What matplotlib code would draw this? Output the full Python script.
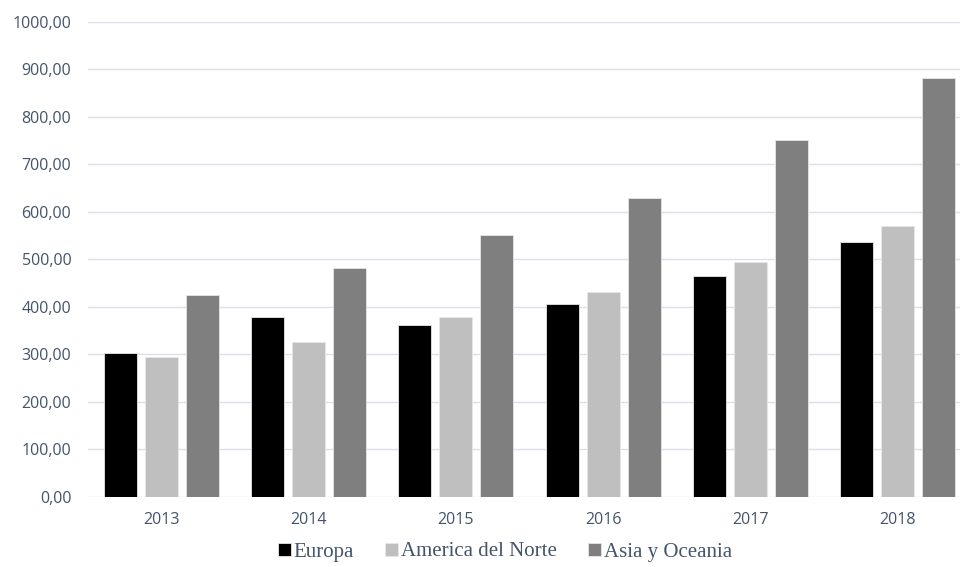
import numpy as np
import matplotlib.pyplot as plt
from matplotlib.ticker import FuncFormatter

years = ['2013', '2014', '2015', '2016', '2017', '2018']
europa = [303, 378, 362, 406, 465, 537]
america = [294, 326, 379, 430, 495, 569]
asia = [425, 482, 550, 628, 752, 881]

series = [('Europa', europa, '#000000'),
          ('America del Norte', america, '#bfbfbf'),
          ('Asia y Oceania', asia, '#7f7f7f')]

txt = '#44546a'

fig = plt.figure(figsize=(9.6, 5.67), dpi=100)
ax = fig.add_axes([88 / 960, 70.3 / 567, 883 / 960, 475 / 567])

x = np.arange(len(years))
w = 0.224
step = 0.279
for i, (name, vals, col) in enumerate(series):
    ax.bar(x + (i - 1) * step, vals, width=w, color=col, label=name,
           edgecolor='#e6e6e6', linewidth=0.6, zorder=3)

ax.set_xlim(-0.5, len(years) - 0.5)
ax.set_ylim(0, 1000)
ax.set_yticks(np.arange(0, 1001, 100))
ax.yaxis.set_major_formatter(FuncFormatter(lambda v, p: f'{v:.2f}'.replace('.', ',')))
ax.set_xticks(x)
ax.set_xticklabels(years)

ax.grid(axis='y', color='#dde0ea', linewidth=1, zorder=0)
for s in ax.spines.values():
    s.set_visible(False)
ax.tick_params(length=0, labelsize=11.5, labelcolor=txt)
ax.tick_params(axis='y', pad=12)
ax.tick_params(axis='x', pad=11)
for lab in ax.get_xticklabels() + ax.get_yticklabels():
    lab.set_fontfamily('Open Sans')
    lab.set_fontweight('medium')

fig.legend(loc='center', bbox_to_anchor=(505 / 960, 1 - 552 / 567), ncol=3,
           frameon=False, handlelength=0.6, handleheight=0.6, handletextpad=0.15,
           columnspacing=1.5, prop={'family': 'Liberation Serif', 'size': 15},
           labelcolor=txt)

fig.savefig('out.png', dpi=100)
